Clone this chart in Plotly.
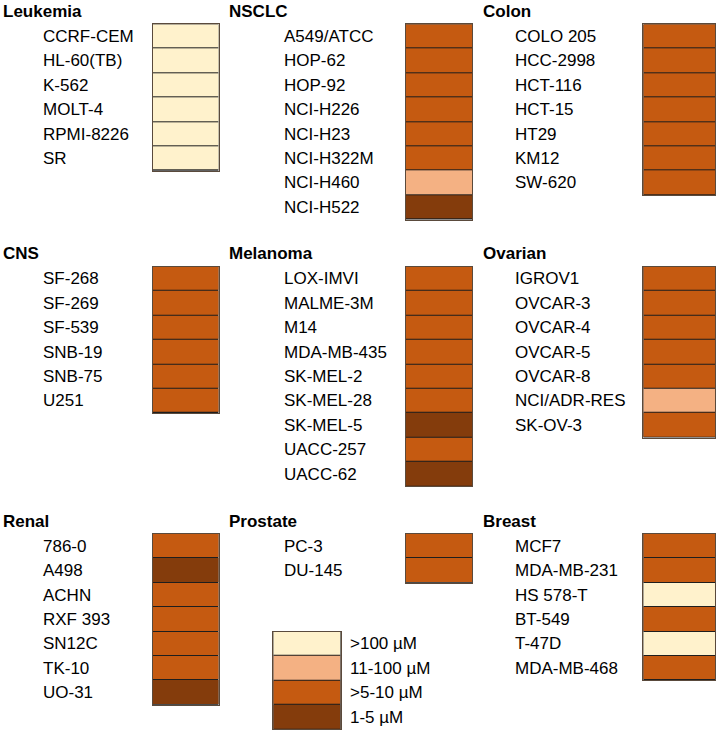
import plotly.graph_objects as go

W, H_PX = 717, 731

# ---- data ----
categories = [">100 µM", "11-100 µM", ">5-10 µM", "1-5 µM"]
cat_colors = ["#FFF2CC", "#F4B183", "#C55A11", "#843C0C"]

leukemia_lines = ["CCRF-CEM", "HL-60(TB)", "K-562", "MOLT-4", "RPMI-8226", "SR"]
leukemia_vals = [0, 0, 0, 0, 0, 0]
nsclc_lines = ["A549/ATCC", "HOP-62", "HOP-92", "NCI-H226", "NCI-H23", "NCI-H322M", "NCI-H460", "NCI-H522"]
nsclc_vals = [2, 2, 2, 2, 2, 2, 1, 3]
colon_lines = ["COLO 205", "HCC-2998", "HCT-116", "HCT-15", "HT29", "KM12", "SW-620"]
colon_vals = [2, 2, 2, 2, 2, 2, 2]
cns_lines = ["SF-268", "SF-269", "SF-539", "SNB-19", "SNB-75", "U251"]
cns_vals = [2, 2, 2, 2, 2, 2]
melanoma_lines = ["LOX-IMVI", "MALME-3M", "M14", "MDA-MB-435", "SK-MEL-2", "SK-MEL-28", "SK-MEL-5", "UACC-257", "UACC-62"]
melanoma_vals = [2, 2, 2, 2, 2, 2, 3, 2, 3]
ovarian_lines = ["IGROV1", "OVCAR-3", "OVCAR-4", "OVCAR-5", "OVCAR-8", "NCI/ADR-RES", "SK-OV-3"]
ovarian_vals = [2, 2, 2, 2, 2, 1, 2]
renal_lines = ["786-0", "A498", "ACHN", "RXF 393", "SN12C", "TK-10", "UO-31"]
renal_vals = [2, 3, 2, 2, 2, 2, 3]
prostate_lines = ["PC-3", "DU-145"]
prostate_vals = [2, 2]
breast_lines = ["MCF7", "MDA-MB-231", "HS 578-T", "BT-549", "T-47D", "MDA-MB-468"]
breast_vals = [2, 2, 0, 2, 0, 2]

# ---- layout (pixels) ----
ROW_H = 24.4
cols = {
    "L": dict(title_x=1, label_x=41, x0=153, x1=218.5),
    "M": dict(title_x=227, label_x=282, x0=405.5, x1=472),
    "R": dict(title_x=481, label_x=513, x0=643.3, x1=715),
}
row_tops = [24.3, 266.7, 534.0]
TITLE_OFF = 12.8

panels = [
    ("Leukemia", leukemia_lines, leukemia_vals, "L", 0),
    ("NSCLC", nsclc_lines, nsclc_vals, "M", 0),
    ("Colon", colon_lines, colon_vals, "R", 0),
    ("CNS", cns_lines, cns_vals, "L", 1),
    ("Melanoma", melanoma_lines, melanoma_vals, "M", 1),
    ("Ovarian", ovarian_lines, ovarian_vals, "R", 1),
    ("Renal", renal_lines, renal_vals, "L", 2),
    ("Prostate", prostate_lines, prostate_vals, "M", 2),
    ("Breast", breast_lines, breast_vals, "R", 2),
]

nc = len(cat_colors)
colorscale = []
for i, c in enumerate(cat_colors):
    colorscale.append([i / nc, c])
    colorscale.append([(i + 1) / nc, c])

FONT = "Liberation Sans, Arial, sans-serif"
fig = go.Figure()
annotations = []
layout_axes = {}


def px_x(x):
    return x / W


def px_y(y):
    return 1 - y / H_PX


def add_block(k, names, vals, x0, x1, top, label_x, title=None, title_x=None):
    n = len(vals)
    xa = "x" if k == 1 else f"x{k}"
    ya = "y" if k == 1 else f"y{k}"
    fig.add_trace(go.Heatmap(
        z=[[v] for v in vals], x=[0], y=list(range(n)),
        zmin=-0.5, zmax=nc - 0.5, colorscale=colorscale, showscale=False,
        ygap=1, xaxis=xa, yaxis=ya, hoverinfo="skip",
    ))
    axcommon = dict(showgrid=False, zeroline=False, showticklabels=False, ticks="",
                    showline=True, mirror=True, linecolor="#5a4a3c", linewidth=1, fixedrange=True)
    layout_axes["xaxis" if k == 1 else f"xaxis{k}"] = dict(
        domain=[px_x(x0), px_x(x1)], range=[-0.5, 0.5], anchor=ya, **axcommon)
    layout_axes["yaxis" if k == 1 else f"yaxis{k}"] = dict(
        domain=[px_y(top + n * ROW_H), px_y(top)], range=[n - 0.5, -0.5], anchor=xa, **axcommon)
    for i, name in enumerate(names):
        annotations.append(dict(
            text=name, xref="paper", yref=ya, x=px_x(label_x), y=i,
            xanchor="left", yanchor="middle", showarrow=False,
            font=dict(family=FONT, size=17, color="black")))
    if title:
        annotations.append(dict(
            text=f"<b>{title}</b>", xref="paper", yref="paper",
            x=px_x(title_x), y=px_y(top - TITLE_OFF),
            xanchor="left", yanchor="middle", showarrow=False,
            font=dict(family=FONT, size=17, color="black")))


k = 1
for title, names, vals, col, r in panels:
    c = cols[col]
    add_block(k, names, vals, c["x0"], c["x1"], row_tops[r], c["label_x"], title, c["title_x"])
    k += 1

# legend block
add_block(k, categories, list(range(nc)), 273.3, 340.7, 631.7, 348)

fig.update_layout(
    width=W, height=H_PX, margin=dict(l=0, r=0, t=0, b=0),
    paper_bgcolor="white", plot_bgcolor="#1e1e1e",
    annotations=annotations, showlegend=False, **layout_axes,
)

fig.write_html("out.html", config={"displayModeBar": False},
               post_script="document.body.style.margin='0';document.body.style.overflow='hidden';")
